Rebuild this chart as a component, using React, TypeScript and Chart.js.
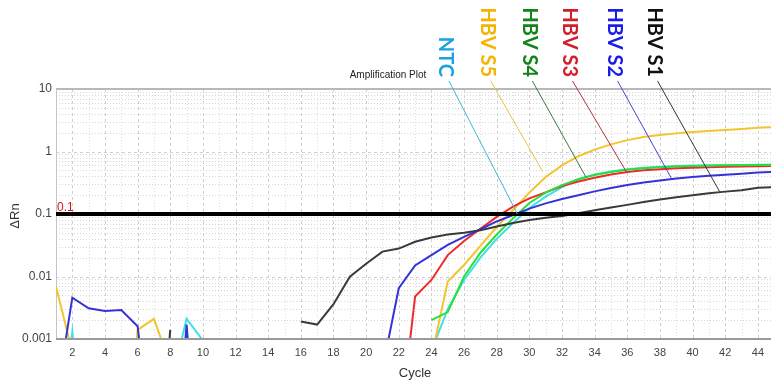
import React, { useEffect, useRef } from "react";
import { Chart, registerables } from "chart.js";

Chart.register(...registerables);

const cycles = [
  1, 2, 3, 4, 5, 6, 7, 8, 9, 10, 11, 12, 13, 14, 15, 16, 17, 18, 19, 20, 21, 22, 23,
  24, 25, 26, 27, 28, 29, 30, 31, 32, 33, 34, 35, 36, 37, 38, 39, 40, 41, 42, 43, 44, 45,
];

// HBV S1 (black)
const s1 = [
  null, null, null, null, null, null, 0.000001, 0.0014, null, null, null, null, null, null, null,
  0.0019, 0.0017, 0.0036, 0.0099, 0.016, 0.025, 0.028, 0.036, 0.042, 0.047, 0.05, 0.055, 0.063,
  0.072, 0.08, 0.087, 0.093, 0.103, 0.115, 0.127, 0.14, 0.155, 0.17, 0.185, 0.2, 0.215, 0.228,
  0.24, 0.262, 0.27,
];
// HBV S2 (blue)
const s2 = [
  0.0001, 0.0046, 0.0031, 0.0028, 0.0029, 0.0016, 0.00001, 0.000001, 0.0017, 0.000001, null, null,
  null, null, null, null, null, null, null, null, 0.00033, 0.0065, 0.015, 0.022, 0.032, 0.043,
  0.057, 0.076, 0.096, 0.122, 0.148, 0.174, 0.2, 0.23, 0.26, 0.29, 0.32, 0.345, 0.37, 0.39, 0.41,
  0.425, 0.44, 0.46, 0.47,
];
// HBV S3 (red)
const s3 = [
  null, null, null, null, null, null, null, null, null, null, null, null, null, null, null, null,
  null, null, null, null, null, 0.000026, 0.0048, 0.0088, 0.022, 0.037, 0.058, 0.09, 0.131, 0.178,
  0.222, 0.28, 0.33, 0.38, 0.43, 0.47, 0.5, 0.52, 0.54, 0.55, 0.56, 0.57, 0.575, 0.58, 0.585,
];
// HBV S4 (green)
const s4 = [
  null, null, null, null, null, null, null, null, null, null, null, null, null, null, null, null,
  null, null, null, null, null, null, null, 0.002, 0.0027, 0.01, 0.024, 0.047, 0.085, 0.15, 0.22,
  0.29, 0.36, 0.42, 0.47, 0.51, 0.54, 0.56, 0.575, 0.585, 0.59, 0.6, 0.6, 0.61, 0.61,
];
// HBV S5 (yellow)
const s5 = [
  0.0069, 0.00062, null, null, 0.000001, 0.0014, 0.0021, 0.00039, 0.000001, null, null, null, null,
  null, null, null, null, null, null, null, null, null, null, 0.00051, 0.0083, 0.0153, 0.031,
  0.062, 0.116, 0.22, 0.39, 0.6, 0.84, 1.07, 1.3, 1.52, 1.7, 1.84, 1.95, 2.05, 2.13, 2.2, 2.3,
  2.4, 2.45,
];
// NTC (cyan)
const ntc = [
  0.00001, 0.0013, 0.000001, null, null, null, null, 0.00017, 0.0021, 0.00095, 0.000001, null,
  null, null, null, null, null, null, null, null, null, null, null, 0.00065, 0.003, 0.0088, 0.02,
  0.04, 0.072, 0.125, 0.19, 0.27, 0.36, 0.43, 0.48, 0.52, 0.55, 0.57, 0.585, 0.595, 0.6, 0.605,
  0.61, 0.615, 0.62,
];

const threshold = 0.1;
const xTicks = [2, 4, 6, 8, 10, 12, 14, 16, 18, 20, 22, 24, 26, 28, 30, 32, 34, 36, 38, 40, 42, 44];
const yTicks = [0.001, 0.01, 0.1, 1, 10];
const yTickLabels = ["0.001", "0.01", "0.1", "1", "10"];

// annotation labels (cycle of label, leader target in data coords)
const annLabels = ["NTC", "HBV S5", "HBV S4", "HBV S3", "HBV S2", "HBV S1"];
const annLabelCycles = [24.89, 27.45, 30.0, 32.46, 35.22, 37.67];
const annTargetCycles = [29.27, 30.82, 33.48, 35.94, 38.7, 41.66];
const annTargetValues = [0.1, 0.475, 0.384, 0.475, 0.373, 0.227];
const annTextColors = ["#1ba2df", "#f4b400", "#12841a", "#d11f2c", "#1c1ce8", "#111111"];
const annLineColors = ["#3db6d6", "#e6c640", "#3d7a3d", "#b8303e", "#4646d0", "#333333"];

const FONT = "'Liberation Sans', Arial, sans-serif";

const pts = (arr: (number | null)[]) => cycles.map((c, i) => ({ x: c, y: arr[i] }));

const gridPlugin = {
  id: "qpcrGrid",
  beforeDatasetsDraw(chart: any) {
    const { ctx, chartArea: a, scales } = chart;
    const x = scales.x;
    const y = scales.y;
    ctx.save();
    ctx.lineWidth = 1;
    // horizontal minor dotted lines
    ctx.strokeStyle = "#d6d6d6";
    ctx.setLineDash([1, 2]);
    for (let e = -3; e < 1; e++) {
      for (let m = 2; m <= 9; m++) {
        const py = Math.round(y.getPixelForValue(m * Math.pow(10, e))) + 0.5;
        ctx.beginPath();
        ctx.moveTo(a.left, py);
        ctx.lineTo(a.right, py);
        ctx.stroke();
      }
    }
    // vertical minor dotted (odd cycles)
    ctx.strokeStyle = "#dedede";
    for (let c = 1; c <= 45; c += 2) {
      const px = Math.round(x.getPixelForValue(c)) + 0.5;
      if (px <= a.left + 1 || px > a.right) continue;
      ctx.beginPath();
      ctx.moveTo(px, a.top);
      ctx.lineTo(px, a.bottom);
      ctx.stroke();
    }
    // decade dashed lines
    ctx.strokeStyle = "#cfcfcf";
    ctx.setLineDash([3, 3]);
    for (const v of yTicks) {
      const py = Math.round(y.getPixelForValue(v)) + 0.5;
      ctx.beginPath();
      ctx.moveTo(a.left, py);
      ctx.lineTo(a.right, py);
      ctx.stroke();
    }
    for (const c of xTicks) {
      const px = Math.round(x.getPixelForValue(c)) + 0.5;
      ctx.beginPath();
      ctx.moveTo(px, a.top);
      ctx.lineTo(px, a.bottom);
      ctx.stroke();
    }
    ctx.setLineDash([]);
    // borders
    ctx.strokeStyle = "#b8b8b8";
    ctx.lineWidth = 2;
    ctx.beginPath();
    ctx.moveTo(a.left, a.top);
    ctx.lineTo(a.right, a.top);
    ctx.stroke();
    ctx.strokeStyle = "#c4c4c4";
    ctx.lineWidth = 1;
    ctx.beginPath();
    ctx.moveTo(a.left + 0.5, a.top);
    ctx.lineTo(a.left + 0.5, a.bottom);
    ctx.stroke();
    ctx.restore();
  },
  afterDatasetsDraw(chart: any) {
    const { ctx, chartArea: a, scales } = chart;
    const x = scales.x;
    const y = scales.y;
    ctx.save();
    // bottom axis line
    ctx.strokeStyle = "#9a9a9a";
    ctx.lineWidth = 2;
    ctx.beginPath();
    ctx.moveTo(a.left, a.bottom);
    ctx.lineTo(a.right, a.bottom);
    ctx.stroke();

    // threshold label
    ctx.fillStyle = "#e01010";
    ctx.font = `12px ${FONT}`;
    ctx.textAlign = "left";
    ctx.textBaseline = "alphabetic";
    ctx.fillText(String(threshold), a.left + 1, y.getPixelForValue(threshold) - 3);

    // leader lines + rotated labels
    const textEnd = 77;
    for (let i = 0; i < annLabels.length; i++) {
      const lx = x.getPixelForValue(annLabelCycles[i]);
      const tx = x.getPixelForValue(annTargetCycles[i]);
      const ty = y.getPixelForValue(annTargetValues[i]);
      ctx.strokeStyle = annLineColors[i];
      ctx.lineWidth = 1;
      ctx.beginPath();
      ctx.moveTo(lx + 3, textEnd + 4);
      ctx.lineTo(tx, ty);
      ctx.stroke();

      ctx.save();
      ctx.translate(lx, textEnd);
      ctx.rotate(Math.PI / 2);
      ctx.fillStyle = annTextColors[i];
      ctx.font = `bold 20px Lato, 'Open Sans', sans-serif`;
      ctx.textAlign = "right";
      ctx.textBaseline = "middle";
      ctx.fillText(annLabels[i], 0, 0);
      ctx.restore();
    }

    // plot title
    ctx.fillStyle = "#222";
    ctx.font = `10px ${FONT}`;
    ctx.textAlign = "center";
    ctx.textBaseline = "alphabetic";
    ctx.fillText("Amplification Plot", 388, 78);

    // axis titles
    ctx.fillStyle = "#333";
    ctx.font = `13px ${FONT}`;
    ctx.textAlign = "center";
    ctx.textBaseline = "middle";
    ctx.fillText("Cycle", 415, 373);
    ctx.save();
    ctx.translate(15, 216);
    ctx.rotate(-Math.PI / 2);
    ctx.fillText("ΔRn", 0, 0);
    ctx.restore();
    ctx.restore();
  },
};

export default function App() {
  const ref = useRef<HTMLCanvasElement | null>(null);
  useEffect(() => {
    if (!ref.current) return;
    const line = (label: string, data: (number | null)[], color: string) => ({
      label,
      data: pts(data),
      borderColor: color,
      backgroundColor: color,
      borderWidth: 2,
      pointRadius: 0,
      tension: 0,
      spanGaps: false,
    });
    const chart = new Chart(ref.current, {
      type: "line",
      data: {
        datasets: [
          {
            label: "Threshold",
            data: [
              { x: 1, y: threshold },
              { x: 45, y: threshold },
            ],
            borderColor: "#000",
            borderWidth: 4,
            pointRadius: 0,
          },
          line("HBV S1", s1, "#3a3a3a"),
          line("HBV S2", s2, "#3434d6"),
          line("HBV S4", s4, "#2ade3a"),
          line("HBV S3", s3, "#ee2a2a"),
          line("HBV S5", s5, "#f2c42e"),
          line("NTC", ntc, "#3fe0e6"),
        ] as any,
      },
      options: {
        responsive: false,
        animation: false,
        devicePixelRatio: 1,
        layout: { padding: { top: 89, left: 0, right: 0, bottom: 0 } },
        plugins: { legend: { display: false }, tooltip: { enabled: false }, title: { display: false } },
        scales: {
          x: {
            type: "linear",
            min: 1,
            max: 44.8,
            afterBuildTicks: (s: any) => {
              s.ticks = xTicks.map((v) => ({ value: v }));
            },
            afterFit: (s: any) => {
              s.height = 43;
            },
            grid: { display: false, drawTicks: false },
            border: { display: false },
            ticks: {
              autoSkip: false,
              maxRotation: 0,
              padding: 7,
              color: "#444",
              font: { size: 11, family: FONT },
            },
          },
          y: {
            type: "logarithmic",
            min: 0.001,
            max: 10,
            afterBuildTicks: (s: any) => {
              s.ticks = yTicks.map((v) => ({ value: v }));
            },
            afterFit: (s: any) => {
              s.width = 56;
            },
            grid: { display: false, drawTicks: false },
            border: { display: false },
            ticks: {
              padding: 4,
              color: "#444",
              font: { size: 12, family: FONT },
              callback: (v: any) => {
                const idx = yTicks.findIndex((t) => Math.abs(t - Number(v)) < t * 1e-6);
                return idx >= 0 ? yTickLabels[idx] : "";
              },
            },
          },
        },
      } as any,
      plugins: [gridPlugin],
    });
    return () => chart.destroy();
  }, []);
  return (
    <div style={{ position: "fixed", left: 0, top: 0, width: 771, height: 382, background: "#fff" }}>
      <canvas ref={ref} width={771} height={382} style={{ display: "block", width: 771, height: 382 }} />
    </div>
  );
}
